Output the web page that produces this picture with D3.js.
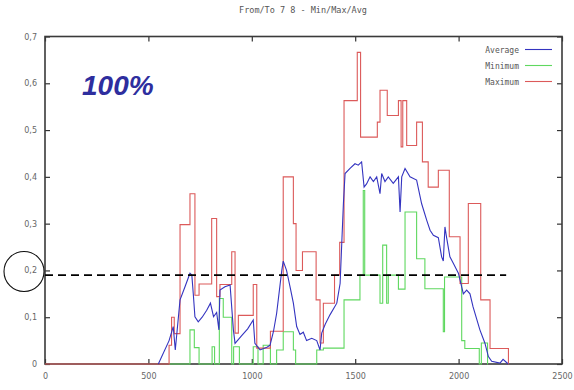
<!DOCTYPE html>
<html>
<head>
<meta charset="utf-8">
<script src="https://cdn.jsdelivr.net/npm/d3@7"></script>
<style>
  body { margin: 0; background: #fff; }
  svg { display: block; }
  .axis text { font-family: "DejaVu Sans", sans-serif; font-size: 8px; fill: #666; }
  .axis path { display: none; }
  .axis line { stroke: #333; stroke-width: 1.2; }
</style>
</head>
<body>
<svg width="574" height="390"></svg>
<script>
// values (x, value), step series for min / max
var xTicks = [0, 500, 1000, 1500, 2000, 2500];
var yTicks = [0, 0.1, 0.2, 0.3, 0.4, 0.5, 0.6, 0.7];
var seriesNames = ["Average", "Minimum", "Maximum"];
var seriesColors = ["#3434c0", "#5fd85f", "#dc5a5a"];
var threshold = 0.19, thresholdEnd = 2230;

var maxData = [
  [0,0],[600,0.04],[612,0.10],[625,0.065],[653,0.298],[701,0.364],[725,0.147],[745,0.171],
  [806,0.311],[830,0.144],[846,0.17],[903,0.24],[919,0.066],[935,0.104],[1007,0.17],[1024,0.034],
  [1090,0.07],[1152,0.40],[1201,0.30],[1214,0.20],[1245,0.24],[1311,0.137],[1330,0.045],[1346,0.13],
  [1400,0.19],[1425,0.26],[1446,0.563],[1510,0.666],[1526,0.485],[1607,0.517],[1620,0.585],
  [1655,0.531],[1709,0.563],[1722,0.464],[1730,0.563],[1749,0.467],[1797,0.517],[1825,0.432],
  [1853,0.378],[1902,0.414],[1955,0.272],[2007,0.172],[2047,0.343],[2107,0.137],[2152,0.033],
  [2241,0],[2242,0]
];

var minData = [
  [600,0],[701,0.073],[722,0.035],[745,0],[808,0.037],[820,0],[843,0.14],[862,0.10],[903,0],
  [912,0.037],[940,0],[1007,0.037],[1030,0],[1055,0.04],[1090,0],[1120,0.03],[1152,0.069],
  [1201,0.03],[1212,0],[1314,0.03],[1346,0.034],[1446,0.137],[1523,0.19],[1539,0.371],
  [1546,0.19],[1620,0.13],[1633,0.254],[1652,0.13],[1660,0.19],[1709,0.16],[1741,0.325],
  [1797,0.225],[1837,0.161],[1926,0.069],[1932,0.186],[2015,0.05],[2030,0.033],[2100,0],
  [2110,0.045],[2140,0],[2142,0]
];

var avgData = [
  [548,0],[600,0.05],[620,0.08],[630,0.03],[653,0.137],[677,0.165],[701,0.194],[710,0.19],
  [717,0.15],[725,0.101],[741,0.09],[760,0.10],[782,0.115],[800,0.13],[815,0.101],[830,0.11],
  [841,0.073],[846,0.158],[870,0.165],[895,0.169],[911,0.073],[919,0.044],[950,0.06],[980,0.075],
  [1007,0.094],[1015,0.044],[1040,0.03],[1070,0.035],[1088,0.04],[1105,0.07],[1120,0.108],
  [1145,0.20],[1152,0.22],[1168,0.20],[1185,0.165],[1201,0.13],[1217,0.08],[1233,0.063],
  [1249,0.068],[1265,0.05],[1290,0.055],[1314,0.05],[1330,0.03],[1338,0.066],[1355,0.085],
  [1378,0.105],[1411,0.13],[1427,0.172],[1435,0.258],[1443,0.343],[1451,0.407],[1475,0.418],
  [1499,0.428],[1515,0.425],[1531,0.432],[1543,0.378],[1555,0.385],[1572,0.40],[1588,0.39],
  [1604,0.40],[1620,0.364],[1628,0.407],[1644,0.39],[1660,0.40],[1684,0.386],[1709,0.40],
  [1717,0.325],[1725,0.40],[1741,0.418],[1765,0.40],[1797,0.393],[1821,0.343],[1846,0.307],
  [1862,0.286],[1878,0.275],[1902,0.27],[1918,0.229],[1926,0.22],[1934,0.293],[1942,0.27],
  [1958,0.229],[1975,0.215],[1999,0.194],[2015,0.165],[2023,0.15],[2039,0.158],[2055,0.15],
  [2070,0.122],[2103,0.073],[2127,0.045],[2144,0.016],[2160,0.006],[2200,0.002],[2215,0.01],
  [2240,0]
];

var svg = d3.select("svg");
var x = d3.scaleLinear().domain([0, 2500]).range([45, 562]);
var y = d3.scaleLinear().domain([0, 0.7]).range([364, 36.5]);
var fmt = function(d){ return String(+d.toFixed(1)).replace(".", ","); };

// title
svg.append("text")
  .attr("x", 303).attr("y", 13)
  .attr("text-anchor", "middle")
  .style("font-family", "DejaVu Sans Mono, monospace")
  .style("font-size", "8.5px")
  .style("fill", "#555")
  .text("From/To 7 8 - Min/Max/Avg");

// axes, gnuplot-like: ticks inside, mirrored
svg.append("g").attr("class", "axis")
  .attr("transform", "translate(0,364)")
  .call(d3.axisBottom(x).tickValues(xTicks).tickSizeInner(-5).tickSizeOuter(0).tickPadding(9).tickFormat(d3.format("d")));
svg.append("g").attr("class", "axis")
  .attr("transform", "translate(0,36.5)")
  .call(d3.axisTop(x).tickValues(xTicks).tickSizeInner(-5).tickSizeOuter(0).tickFormat(""));
svg.append("g").attr("class", "axis")
  .attr("transform", "translate(45,0)")
  .call(d3.axisLeft(y).tickValues(yTicks).tickSizeInner(-5).tickSizeOuter(0).tickPadding(8).tickFormat(fmt));
svg.append("g").attr("class", "axis")
  .attr("transform", "translate(562,0)")
  .call(d3.axisRight(y).tickValues(yTicks).tickSizeInner(-5).tickSizeOuter(0).tickFormat(""));

svg.append("rect")
  .attr("x", 45).attr("y", 36.5)
  .attr("width", 517).attr("height", 327.5)
  .attr("fill", "none").attr("stroke", "#3a3a3a").attr("stroke-width", 1.6);

var stepLine = d3.line().x(function(d){ return x(d[0]); }).y(function(d){ return y(d[1]); }).curve(d3.curveStepAfter);
var plainLine = d3.line().x(function(d){ return x(d[0]); }).y(function(d){ return y(d[1]); });

svg.append("path").datum(minData).attr("d", stepLine)
  .attr("fill", "none").attr("stroke", seriesColors[1]).attr("stroke-width", 1.1);
svg.append("path").datum(maxData).attr("d", stepLine)
  .attr("fill", "none").attr("stroke", seriesColors[2]).attr("stroke-width", 1.1);
svg.append("path").datum(avgData).attr("d", plainLine)
  .attr("fill", "none").attr("stroke", seriesColors[0]).attr("stroke-width", 1.1);

// threshold dashed line
svg.append("line")
  .attr("x1", x(0)).attr("x2", x(thresholdEnd))
  .attr("y1", y(threshold)).attr("y2", y(threshold))
  .attr("stroke", "#000").attr("stroke-width", 1.8)
  .attr("stroke-dasharray", "8,5");

// circle around the 0,2 label
svg.append("circle")
  .attr("cx", 24).attr("cy", y(0.2) + 1).attr("r", 20)
  .attr("fill", "none").attr("stroke", "#111").attr("stroke-width", 1.1);

// big label
svg.append("text")
  .attr("x", 82).attr("y", 95)
  .style("font-family", "Liberation Sans, Arial, sans-serif")
  .style("font-size", "28px").style("font-weight", "bold").style("font-style", "italic")
  .style("fill", "#2e2e9e")
  .text("100%");

// legend
var legend = svg.append("g");
seriesNames.forEach(function(name, i){
  var ly = 49.5 + i * 16;
  legend.append("text")
    .attr("x", 519).attr("y", ly + 3)
    .attr("text-anchor", "end")
    .style("font-family", "DejaVu Sans Mono, monospace")
    .style("font-size", "8px").style("fill", "#555")
    .text(name);
  legend.append("line")
    .attr("x1", 525).attr("x2", 552).attr("y1", ly).attr("y2", ly)
    .attr("stroke", seriesColors[i]).attr("stroke-width", 1.1);
});
</script>
</body>
</html>
